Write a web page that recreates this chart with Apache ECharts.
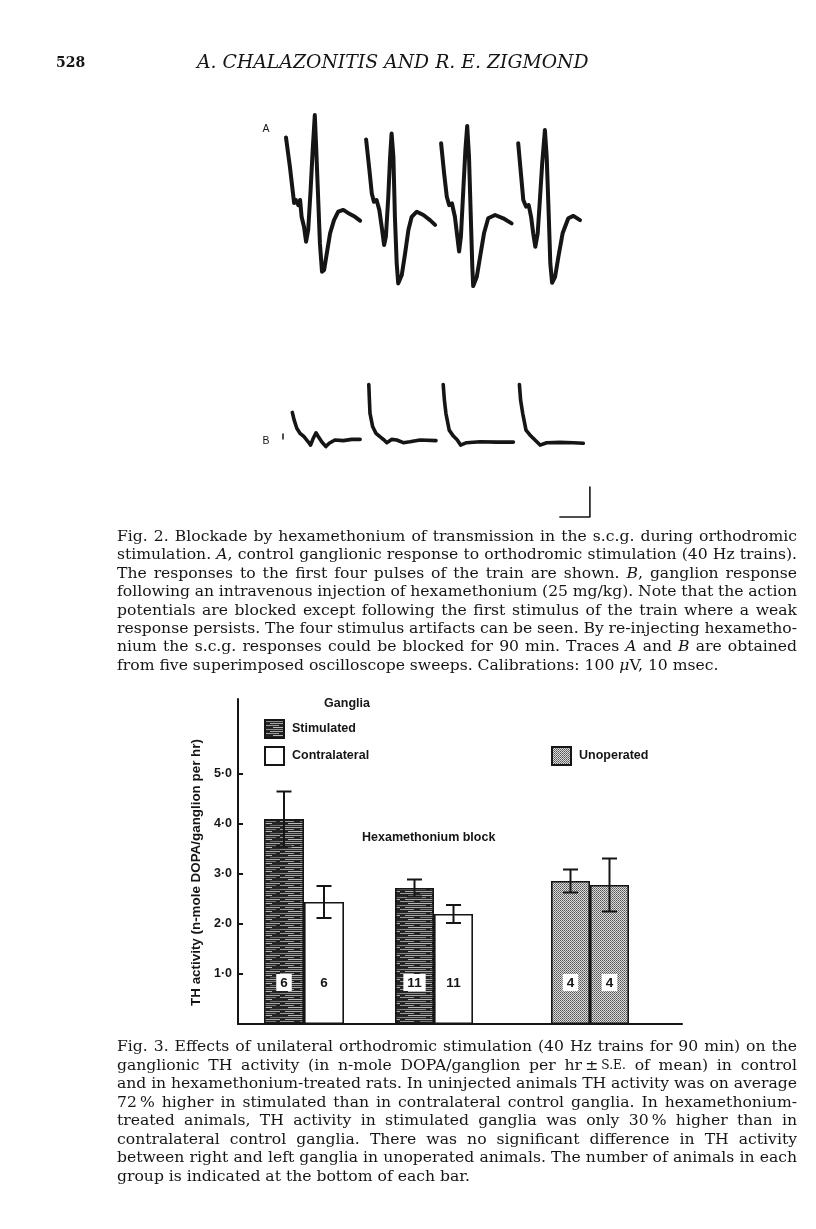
<!DOCTYPE html>
<html><head><meta charset="utf-8">
<script src="https://cdn.jsdelivr.net/npm/echarts@6/dist/echarts.min.js"></script>
<style>html,body{margin:0;padding:0;background:#fff}#c{width:816px;height:1229px}</style>
</head><body><div id="c"></div>
<script>
// ================= DATA =================
// Fig. 3 – TH activity (n-mole DOPA/ganglion per hr), mean ± S.E.
const groups = ['Control', 'Hexamethonium block', 'Unoperated'];
const stimulatedMean = [4.1, 2.72];
const stimulatedSE = [0.55, 0.17];
const stimulatedN = [6, 11];
const contralateralMean = [2.44, 2.2];
const contralateralSE = [0.32, 0.18];
const contralateralN = [6, 11];
const unoperatedMean = [2.86, 2.78];
const unoperatedSE = [0.23, 0.53];
const unoperatedN = [4, 4];
const yTickValues = [1, 2, 3, 4, 5];
const yAxisTitle = 'TH activity (n-mole DOPA/ganglion per hr)';

// Fig. 2 – oscilloscope traces, [time (ms), potential (µV)]
const traceA1 = [[0.0,268],[1.3,171],[2.2,93],[2.7,50],[3.3,60],[4.1,43],[4.7,60],[5.2,4],[6.0,-29],[6.7,-79],[7.4,-40],[8.2,93],[8.9,227],[9.6,343],[10.0,249],[10.7,71],[11.3,-84],[12.0,-179],[12.7,-173],[13.6,-118],[14.7,-51],[16.0,-7],[17.4,21],[19.1,27],[21.3,13],[23.0,4],[24.7,-9]];
const traceA2 = [[26.7,262],[27.8,160],[28.6,82],[29.3,54],[30.2,60],[31.1,27],[31.9,-29],[32.7,-90],[33.3,-62],[34.1,71],[34.7,204],[35.2,282],[35.8,204],[36.3,4],[36.9,-151],[37.4,-218],[38.6,-190],[39.7,-118],[40.8,-40],[41.9,4],[43.6,21],[45.8,10],[48.0,-7],[49.7,-23]];
const traceA3 = [[51.7,249],[52.7,149],[53.6,71],[54.4,43],[55.3,49],[56.3,4],[57.1,-62],[57.7,-112],[58.3,-62],[59.1,93],[59.8,227],[60.4,307],[61.0,204],[61.6,4],[62.1,-162],[62.4,-227],[63.6,-196],[64.7,-129],[66.0,-51],[67.4,-1],[69.7,10],[72.4,-1],[75.2,-18]];
const traceA4 = [[77.4,249],[78.3,149],[79.1,60],[80.0,38],[80.9,43],[81.7,4],[82.4,-51],[83.1,-96],[83.9,-51],[84.7,71],[85.4,182],[86.3,293],[86.9,204],[87.6,4],[88.1,-151],[88.7,-216],[89.7,-196],[90.8,-129],[92.2,-51],[94.1,-1],[95.8,7],[98.0,-7]];
const traceB0 = [[-1.0,20],[-1.0,3]];
const traceB1 = [[2.1,92],[2.7,67],[3.6,39],[4.7,22],[6.0,11],[7.4,-6],[8.2,-17],[9.1,6],[10.0,24],[10.8,11],[11.9,-6],[13.3,-22],[14.4,-11],[16.3,0],[19.1,-2],[21.9,2],[24.7,2]];
const traceB2 = [[27.6,185],[27.8,133],[28.0,89],[28.9,44],[30.0,22],[31.3,11],[32.7,0],[33.6,-9],[35.2,2],[36.9,0],[39.1,-9],[41.3,-6],[44.7,0],[50.0,-2]];
const traceB3 = [[52.4,185],[52.8,133],[53.3,89],[54.4,33],[55.8,13],[57.1,0],[58.2,-17],[60.2,-9],[64.7,-6],[70.2,-7],[75.8,-7]];
const traceB4 = [[77.8,185],[78.2,133],[78.9,89],[80.0,33],[81.3,17],[83.0,0],[84.7,-17],[86.9,-9],[91.3,-8],[95.8,-9],[99.1,-11]];
const calibration = [10, 100]; // 10 msec, 100 µV

// ================= TEXT =================
const headerPage = '528';
const headerTitle = 'A. CHALAZONITIS AND R. E. ZIGMOND';
const fig2Lines = [
  'Fig. 2. Blockade by hexamethonium of transmission in the s.c.g. during orthodromic',
  'stimulation. *A*, control ganglionic response to orthodromic stimulation (40 Hz trains).',
  'The responses to the first four pulses of the train are shown. *B*, ganglion response',
  'following an intravenous injection of hexamethonium (25 mg/kg). Note that the action',
  'potentials are blocked except following the first stimulus of the train where a weak',
  'response persists. The four stimulus artifacts can be seen. By re-injecting hexametho-',
  'nium the s.c.g. responses could be blocked for 90 min. Traces *A* and *B* are obtained',
  'from five superimposed oscilloscope sweeps. Calibrations: 100 *\u03bc*V, 10 msec.'
];
const fig3Lines = [
  'Fig. 3. Effects of unilateral orthodromic stimulation (40 Hz trains for 90 min) on the',
  'ganglionic TH activity (in n-mole DOPA/ganglion per hr\u2009\u00b1\u2009^S.E.^ of mean) in control',
  'and in hexamethonium-treated rats. In uninjected animals TH activity was on average',
  '72\u2009% higher in stimulated than in contralateral control ganglia. In hexamethonium-',
  'treated animals, TH activity in stimulated ganglia was only 30\u2009% higher than in',
  'contralateral control ganglia. There was no significant difference in TH activity',
  'between right and left ganglia in unoperated animals. The number of animals in each',
  'group is indicated at the bottom of each bar.'
];

// ================= LAYOUT / STYLE =================
const SANS = "'Liberation Sans', Arial, sans-serif";
const SERIF = "'DejaVu Serif', serif";
const INK = '#151515';
const plot = {left: 238, top: 699, width: 444, height: 325};
const groupGrids = [{left: 264, width: 80}, {left: 395, width: 78}, {left: 551, width: 78}];
const yMax = 6.5;
const textLeft = 117, textRight = 797;

const mctx = document.createElement('canvas').getContext('2d');
function segs(word) {
  const out = []; const re = /\*([^*]+)\*|\^([^^]+)\^|([^*^]+)/g; let m;
  while ((m = re.exec(word))) {
    if (m[1]) out.push({t: m[1], k: 'i'});
    else if (m[2]) out.push({t: m[2], k: 'sc'});
    else out.push({t: m[3], k: 'n'});
  }
  return out;
}
function cssFont(k, size) {
  if (k === 'i') return `italic ${size}px ${SERIF}`;
  if (k === 'sc') return `${(size * 0.78).toFixed(2)}px ${SERIF}`;
  return `${size}px ${SERIF}`;
}
function wordWidth(word, size) {
  return segs(word).reduce((a, s) => { mctx.font = cssFont(s.k, size); return a + mctx.measureText(s.t).width; }, 0);
}
function wordElement(word, x, y, size) {
  const ss = segs(word);
  if (ss.length === 1 && ss[0].k === 'n') {
    return {type: 'text', x, y, silent: true, style: {text: word, fontFamily: SERIF, fontSize: size, fill: INK, verticalAlign: 'middle'}};
  }
  const text = ss.map(s => `{${s.k}|${s.t}}`).join('');
  return {type: 'text', x, y, silent: true, style: {
    text, fontFamily: SERIF, fontSize: size, fill: INK, verticalAlign: 'middle',
    rich: {
      n: {fontFamily: SERIF, fontSize: size, fill: INK},
      i: {fontFamily: SERIF, fontSize: size, fontStyle: 'italic', fill: INK},
      sc: {fontFamily: SERIF, fontSize: size * 0.78, fill: INK}
    }
  }};
}
function naturalWidth(line, size) {
  const ws = line.split(' ');
  return ws.reduce((a, w) => a + wordWidth(w, size), 0) + (ws.length - 1) * wordWidth(' ', size);
}
function paragraph(lines, left, right, y0, step, size) {
  const els = [];
  const W = right - left;
  lines.forEach((line, li) => {
    const words = line.split(' ');
    let s = size;
    let widths = words.map(w => wordWidth(w, s));
    let total = widths.reduce((a, b) => a + b, 0);
    const last = li === lines.length - 1;
    const minGap = 0.2 * s;
    if (!last && total + minGap * (words.length - 1) > W) {
      s = s * (W - minGap * (words.length - 1)) / total;
      widths = words.map(w => wordWidth(w, s));
      total = widths.reduce((a, b) => a + b, 0);
    }
    const gap = last ? wordWidth(' ', s) : (W - total) / (words.length - 1);
    let x = left;
    const y = y0 + li * step;
    words.forEach((w, i) => { els.push(wordElement(w, x, y, s)); x += widths[i] + gap; });
  });
  return els;
}
const justified = fig2Lines.slice(0, -1).concat(fig3Lines.slice(0, -1));
const nat10 = justified.map(l => naturalWidth(l, 10)).sort((a, b) => a - b);
const capSize = 10 * 0.98 * (textRight - textLeft) / nat10[Math.floor(nat10.length / 2)];

mctx.font = `italic 17px ${SERIF}`;
const headSize = Math.min(19.5, 17 * 392 / mctx.measureText(headerTitle).width);

function stripePattern() {
  const c = document.createElement('canvas'); c.width = 40; c.height = 8;
  const g = c.getContext('2d');
  g.fillStyle = '#242424'; g.fillRect(0, 0, 40, 8);
  const rows = [[1,0,26,'#8c8c8c'],[1,30,40,'#6f6f6f'],[3,5,40,'#a8a8a8'],[5,0,14,'#9a9a9a'],[5,20,36,'#7a7a7a'],[7,8,32,'#b8b8b8']];
  rows.forEach(([y, x1, x2, col]) => { g.fillStyle = col; g.fillRect(x1, y, x2 - x1, 1); });
  return c;
}
function stipplePattern() {
  const c = document.createElement('canvas'); c.width = 2; c.height = 2;
  const g = c.getContext('2d');
  g.fillStyle = '#dadada'; g.fillRect(0, 0, 2, 2);
  g.fillStyle = '#555555'; g.fillRect(0, 0, 1, 1);
  g.fillStyle = '#777777'; g.fillRect(1, 1, 1, 1);
  return c;
}
const stimFill = {image: stripePattern(), repeat: 'repeat'};
const unopFill = {image: stipplePattern(), repeat: 'repeat'};
const fmtTick = v => (v >= 1 && v <= 5) ? v.toFixed(1).replace('.', '\u00b7') : '';

// ================= OPTION =================
const grids = [
  {left: plot.left, top: plot.top, width: plot.width, height: plot.height},
  ...groupGrids.map(g => ({left: g.left, top: plot.top, width: g.width, height: plot.height})),
  {left: 256, top: 98, width: 360, height: 210},   // trace A
  {left: 256, top: 350, width: 360, height: 180}   // trace B
];
const xAxes = [
  {type: 'value', gridIndex: 0, min: 0, max: 1, axisLine: {show: true, onZero: false, lineStyle: {color: INK, width: 2}}, axisTick: {show: false}, axisLabel: {show: false}, splitLine: {show: false}},
  {type: 'category', gridIndex: 1, data: ['Stimulated', 'Contralateral'], show: false},
  {type: 'category', gridIndex: 2, data: ['Stimulated', 'Contralateral'], show: false},
  {type: 'category', gridIndex: 3, data: ['Right', 'Left'], show: false},
  {type: 'value', gridIndex: 4, min: -10, max: 110, show: false},
  {type: 'value', gridIndex: 5, min: -10, max: 110, show: false}
];
const yAxes = [
  {type: 'value', gridIndex: 0, min: 0, max: yMax, interval: 1,
   axisLine: {show: true, onZero: false, lineStyle: {color: INK, width: 2}},
   axisTick: {show: true, inside: true, length: 5, lineStyle: {color: INK, width: 2}, customValues: yTickValues},
   axisLabel: {show: true, customValues: yTickValues, formatter: fmtTick, margin: 6, color: INK, fontFamily: SANS, fontWeight: 'bold', fontSize: 12.5},
   splitLine: {show: false},
   name: yAxisTitle, nameLocation: 'middle', nameRotate: 90, nameGap: 34,
   nameTextStyle: {color: INK, fontFamily: SANS, fontWeight: 'bold', fontSize: 13.4, padding: [0, 22, 0, 0]}},
  {type: 'value', gridIndex: 1, min: 0, max: yMax, show: false},
  {type: 'value', gridIndex: 2, min: 0, max: yMax, show: false},
  {type: 'value', gridIndex: 3, min: 0, max: yMax, show: false},
  {type: 'value', gridIndex: 4, min: -300, max: 400, show: false},
  {type: 'value', gridIndex: 5, min: -300, max: 300, show: false}
];

const barBorder = {borderColor: INK, borderWidth: 1.6};
function nLabel(arr) {
  return {show: true, position: 'insideBottom', distance: 33, formatter: p => String(arr[p.dataIndex]),
          backgroundColor: '#fff', padding: [2, 4, 1, 4], color: INK, fontFamily: SANS, fontWeight: 'bold', fontSize: 13.5};
}
function errorSeries(k, means, ses) {
  return {type: 'custom', xAxisIndex: k, yAxisIndex: k, z: 5, silent: true,
    data: means.map((m, i) => [i, m, ses[i]]),
    renderItem: (params, api) => {
      const i = api.value(0), m = api.value(1), s = api.value(2);
      const t = api.coord([i, m + s]), b = api.coord([i, m - s]);
      const x = t[0], hw = 7.5, st = {stroke: INK, lineWidth: 2};
      return {type: 'group', children: [
        {type: 'line', shape: {x1: x, y1: t[1], x2: x, y2: b[1]}, style: st},
        {type: 'line', shape: {x1: x - hw, y1: t[1], x2: x + hw, y2: t[1]}, style: st},
        {type: 'line', shape: {x1: x - hw, y1: b[1], x2: x + hw, y2: b[1]}, style: st}
      ]};
    }};
}
const series = [];
[0, 1].forEach(g => {
  const k = g + 1;
  const sN = [], cN = [];
  sN[0] = stimulatedN[g]; cN[1] = contralateralN[g];
  series.push({name: 'Stimulated', type: 'bar', xAxisIndex: k, yAxisIndex: k, barWidth: '100%', barGap: '-100%',
    data: [stimulatedMean[g], '-'], itemStyle: Object.assign({color: stimFill}, barBorder), label: nLabel(sN)});
  series.push({name: 'Contralateral', type: 'bar', xAxisIndex: k, yAxisIndex: k, barWidth: '100%', barGap: '-100%',
    data: ['-', contralateralMean[g]], itemStyle: Object.assign({color: '#ffffff'}, barBorder), label: nLabel(cN)});
  series.push(errorSeries(k, [stimulatedMean[g], contralateralMean[g]], [stimulatedSE[g], contralateralSE[g]]));
});
series.push({name: 'Unoperated', type: 'bar', xAxisIndex: 3, yAxisIndex: 3, barWidth: '100%', barGap: '-100%',
  data: unoperatedMean, itemStyle: Object.assign({color: unopFill}, barBorder), label: nLabel(unoperatedN)});
series.push(errorSeries(3, unoperatedMean, unoperatedSE));

const traceStyle = (w) => ({color: INK, width: w, join: 'round', cap: 'round'});
[traceA1, traceA2, traceA3, traceA4].forEach(d => series.push({type: 'line', xAxisIndex: 4, yAxisIndex: 4, data: d, symbol: 'none', silent: true, lineStyle: traceStyle(4)}));
[traceB0, traceB1, traceB2, traceB3, traceB4].forEach((d, i) => series.push({type: 'line', xAxisIndex: 5, yAxisIndex: 5, data: d, symbol: 'none', silent: true, lineStyle: traceStyle(i === 0 ? 1.5 : 3.6)}));
const calCorner = [101.3, -256.7];
series.push({type: 'line', xAxisIndex: 5, yAxisIndex: 5, symbol: 'none', silent: true, lineStyle: traceStyle(1.6),
  data: [[calCorner[0] - calibration[0], calCorner[1]], calCorner, [calCorner[0], calCorner[1] + calibration[1]]]});

const legendText = {color: INK, fontFamily: SANS, fontWeight: 'bold', fontSize: 12.5, padding: [0, 0, 0, 3]};
const legends = [
  {data: ['Stimulated', 'Contralateral'], orient: 'vertical', left: 264, top: 719, padding: 0, itemWidth: 19, itemHeight: 18, itemGap: 7, icon: 'rect', selectedMode: false, textStyle: legendText},
  {data: ['Unoperated'], orient: 'vertical', left: 551, top: 746, padding: 0, itemWidth: 19, itemHeight: 18, icon: 'rect', selectedMode: false, textStyle: legendText}
];

const graphicEls = [
  {type: 'text', x: 56, y: 63, silent: true, style: {text: headerPage, fontFamily: SERIF, fontWeight: 'bold', fontSize: 14, fill: INK, verticalAlign: 'middle'}},
  {type: 'text', x: 197, y: 63, silent: true, style: {text: headerTitle, fontFamily: SERIF, fontStyle: 'italic', fontSize: headSize, fill: INK, verticalAlign: 'middle'}},
  {type: 'text', x: 266, y: 129, silent: true, style: {text: 'A', fontFamily: SANS, fontSize: 10.5, fill: INK, align: 'center', verticalAlign: 'middle'}},
  {type: 'text', x: 266, y: 441, silent: true, style: {text: 'B', fontFamily: SANS, fontSize: 10.5, fill: INK, align: 'center', verticalAlign: 'middle'}},
  {type: 'text', x: 347, y: 704, silent: true, style: {text: 'Ganglia', fontFamily: SANS, fontWeight: 'bold', fontSize: 12.5, fill: INK, align: 'center', verticalAlign: 'middle'}},
  {type: 'text', x: 362, y: 838, silent: true, style: {text: 'Hexamethonium block', fontFamily: SANS, fontWeight: 'bold', fontSize: 12.5, fill: INK, verticalAlign: 'middle'}},
  ...paragraph(fig2Lines, textLeft, textRight, 537, 18.4, capSize),
  ...paragraph(fig3Lines, textLeft, textRight, 1047, 18.5, capSize)
];

const chart = echarts.init(document.getElementById('c'), null, {renderer: 'canvas'});
chart.setOption({
  animation: false,
  backgroundColor: '#ffffff',
  grid: grids, xAxis: xAxes, yAxis: yAxes,
  legend: legends,
  series,
  graphic: {elements: graphicEls}
});
</script>
</body></html>
